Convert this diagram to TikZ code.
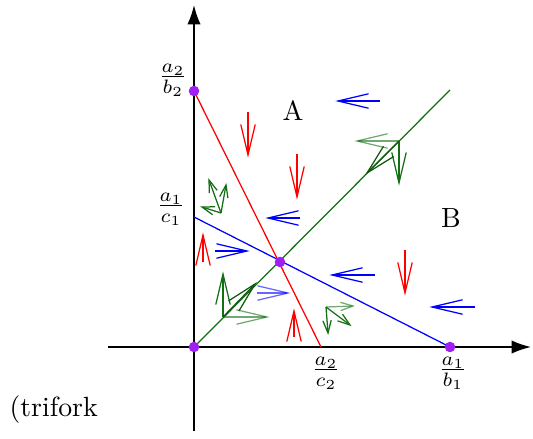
\documentclass[tikz,border=0pt]{standalone}
\usetikzlibrary{arrows.meta}
\definecolor{pur}{RGB}{160,32,240}
\definecolor{dgreen}{RGB}{20,110,20}
\pgfdeclarearrow{
  name = MyVee,
  parameters = {\the\pgfarrowlength,\the\pgfarrowwidth},
  setup code = {
    \pgfarrowssettipend{0pt}
    \pgfarrowssetlineend{-0.5\pgflinewidth}
    \pgfarrowsupperhullpoint{-\pgfarrowlength}{.5\pgfarrowwidth}
    \pgfarrowshullpoint{0pt}{0pt}
    \pgfarrowssavethe\pgfarrowlength
    \pgfarrowssavethe\pgfarrowwidth
  },
  drawing code = {
    \pgfsetdash{}{0pt}
    \pgfsetmiterjoin
    \pgfsetbuttcap
    \pgfpathmoveto{\pgfqpoint{-\pgfarrowlength}{.5\pgfarrowwidth}}
    \pgfpathlineto{\pgfqpoint{0pt}{0pt}}
    \pgfpathlineto{\pgfqpoint{-\pgfarrowlength}{-.5\pgfarrowwidth}}
    \pgfusepathqstroke
  },
  defaults = {length=6pt, width=4pt}
}
\begin{document}
\begin{tikzpicture}[x=0.36pt,y=-0.36pt,
  axis/.style={line width=0.6pt,-{Latex[length=7pt,width=4.8pt]}},
  vec/.style={line width=0.45pt,-{MyVee[length=11pt,width=5.2pt]}},
  svec/.style={line width=0.45pt,-{MyVee[length=4.5pt,width=3pt]}},
  ln/.style={line width=0.45pt},
  faint/.style={opacity=0.6},
  dot/.style={circle,fill=pur,inner sep=0pt,minimum size=3.8pt},
  lab/.style={inner sep=0pt}]
\useasboundingbox (0,0) rectangle (533,438);
% axes
\coordinate (xs) at (108,347); \coordinate (xe) at (531,347);
\coordinate (ys) at (194,431); \coordinate (ye) at (194,5);
\draw[axis] (xs) -- (xe);
\draw[axis] (ys) -- (ye);
% main points
\coordinate (O) at (194,347);
\coordinate (P2) at (194,91);
\coordinate (P1) at (194,217);
\coordinate (Q2) at (321,347);
\coordinate (Q1) at (450,347);
\coordinate (G) at (450,90);
\coordinate (I) at (280,262);
\draw[ln,red] (P2) -- (Q2);
\draw[ln,blue] (P1) -- (Q1);
\draw[ln,dgreen] (O) -- (G);
\node[dot] (dO) at (O) {};
\node[dot] (dP2) at (P2) {};
\node[dot] (dI) at (I) {};
\node[dot] (dQ1) at (Q1) {};
% labels
\node[lab] (l1) at (173,80) {$\frac{a_2}{b_2}$};
\node[lab] (l2) at (171,209) {$\frac{a_1}{c_1}$};
\node[lab] (l3) at (326,373) {$\frac{a_2}{c_2}$};
\node[lab] (l4) at (453,373) {$\frac{a_1}{b_1}$};
\node (A) at (293,111) {A};
\node (B) at (451,218) {B};
\node[anchor=base west,inner sep=0pt] (tf) at (9,416) {(trifork};
% red arrows
\foreach \n/\xa/\ya/\xb/\yb in {r1/248/112/248/155, r2/297/154/297/197, r3/405/250/405/293, r4/203/262/203/235, r5/294/337/294/311}{
  \coordinate (\n s) at (\xa,\ya); \coordinate (\n e) at (\xb,\yb);
  \draw[vec,red] (\n s) -- (\n e);}
% blue arrows
\foreach \n/\xa/\ya/\xb/\yb in {b1/380/101/338/101, b2/300/218/268/218, b3/215/251/247/251, b5/375/275/332/275, b6/475/307/432/307}{
  \coordinate (\n s) at (\xa,\ya); \coordinate (\n e) at (\xb,\yb);
  \draw[vec,blue] (\n s) -- (\n e);}
\coordinate (b4s) at (257,293); \coordinate (b4e) at (288,293);
\draw[vec,blue,faint] (b4s) -- (b4e);
% green clusters
\coordinate (g1) at (399,141);
\coordinate (g1a) at (357,141); \coordinate (g1b) at (399,183); \coordinate (g1c) at (367,173);
\draw[vec,dgreen,faint] (g1) -- (g1a);
\draw[vec,dgreen] (g1) -- (g1b);
\draw[vec,dgreen!80!black] (g1) -- (g1c);
\coordinate (g2) at (223,317);
\coordinate (g2a) at (223,274); \coordinate (g2b) at (267,317); \coordinate (g2c) at (255,284);
\draw[vec,dgreen] (g2) -- (g2a);
\draw[vec,dgreen,faint] (g2) -- (g2b);
\draw[vec,dgreen!80!black] (g2) -- (g2c);
\coordinate (g3) at (221,213);
\coordinate (g3a) at (209,180); \coordinate (g3b) at (226,185); \coordinate (g3c) at (202,207);
\draw[svec,dgreen] (g3) -- (g3a);
\draw[svec,dgreen] (g3) -- (g3b);
\draw[svec,dgreen] (g3) -- (g3c);
\coordinate (g4) at (326,307);
\coordinate (g4a) at (353,306); \coordinate (g4b) at (350,325); \coordinate (g4c) at (328,333);
\draw[svec,dgreen,faint] (g4) -- (g4a);
\draw[svec,dgreen] (g4) -- (g4b);
\draw[svec,dgreen] (g4) -- (g4c);
\end{tikzpicture}
\end{document}
